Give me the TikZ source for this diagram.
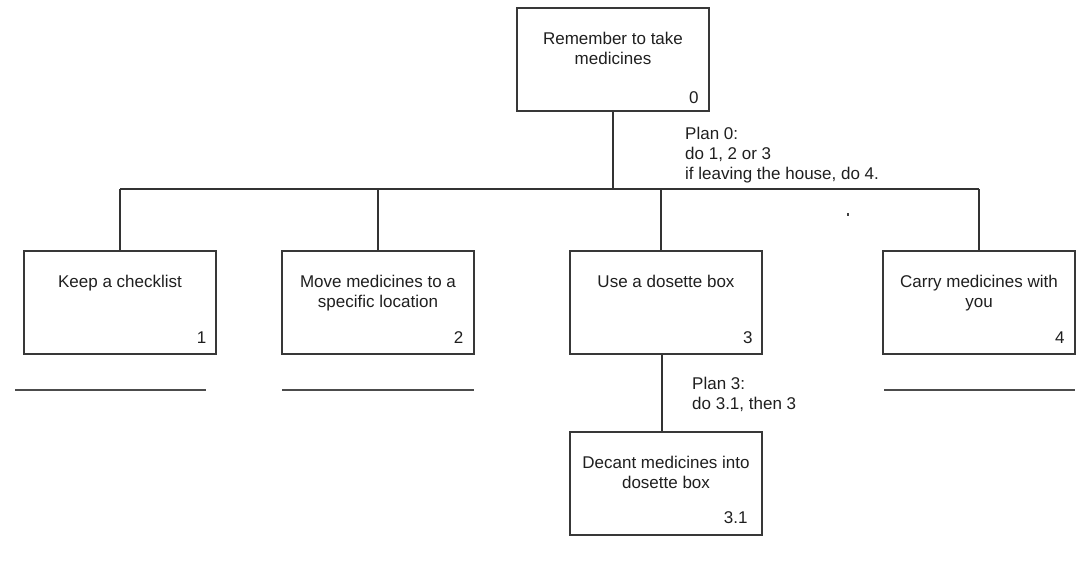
\documentclass[tikz,border=0pt]{standalone}
\usepackage{fontspec}
\setmainfont{Liberation Sans}
\begin{document}
\begin{tikzpicture}[x=1pt,y=-1pt,
  task/.style={draw=black!78, line width=1.3pt, minimum width=192pt, minimum height=103pt, inner sep=0pt},
  caption/.style={anchor=north, align=center, inner sep=0pt, text=black!88, font=\fontsize{17}{20}\selectfont},
  num/.style={anchor=base east, inner sep=0pt, text=black!88, font=\fontsize{17}{20}\selectfont},
  plan/.style={anchor=north west, align=left, inner sep=0pt, text=black!88, font=\fontsize{17}{20}\selectfont},
  link/.style={draw=black!80, line width=1.3pt},
  rule/.style={draw=black!70, line width=1.5pt}]
\useasboundingbox (0,0) rectangle (1080,568);

% task boxes
\node[task] (t0) at (613,59.5) {};
\node[task] (t1) at (120,302.5) {};
\node[task] (t2) at (378,302.5) {};
\node[task] (t3) at (666,302.5) {};
\node[task] (t4) at (979,302.5) {};
\node[task] (t31) at (666,483.5) {};

% task descriptions
\node[caption] (c0) at ([yshift=-25]t0.north) {Remember to take\\medicines};
\node[caption] (c1) at ([yshift=-25]t1.north) {Keep a checklist};
\node[caption] (c2) at ([yshift=-25]t2.north) {Move medicines to a\\specific location};
\node[caption] (c3) at ([yshift=-25]t3.north) {Use a dosette box};
\node[caption] (c4) at ([yshift=-25]t4.north) {Carry medicines with\\you};
\node[caption] (c31) at ([yshift=-25]t31.north) {Decant medicines into\\dosette box};

% task numbers
\node[num] (n0) at ([shift={(-11,-8)}]t0.south east) {0};
\node[num] (n1) at ([shift={(-10,-11)}]t1.south east) {1};
\node[num] (n2) at ([shift={(-11,-11)}]t2.south east) {2};
\node[num] (n3) at ([shift={(-10,-11)}]t3.south east) {3};
\node[num] (n4) at ([shift={(-11,-11)}]t4.south east) {4};
\node[num] (n31) at ([shift={(-15,-12)}]t31.south east) {3.1};

% plans
\node[plan] (p0) at (685,127) {Plan 0:\\do 1, 2 or 3\\if leaving the house, do 4.};
\node[plan] (p3) at (692,377) {Plan 3:\\do 3.1, then 3};

% hierarchy connectors
\coordinate (bus) at (613,189);
\coordinate (t3top) at ([xshift=-5]t3.north);
\coordinate (t3bot) at ([xshift=-4]t3.south);
\draw[link] (t0.south) -- (t0.south |- bus);
\draw[link] (t1.north |- bus) -- (t4.north |- bus);
\draw[link] (t1.north) -- (t1.north |- bus);
\draw[link] (t2.north) -- (t2.north |- bus);
\draw[link] (t3top) -- (t3top |- bus);
\draw[link] (t4.north) -- (t4.north |- bus);
\draw[link] (t3bot) -- (t3bot |- t31.north);

% stop rules under the leaf tasks
\draw[rule] (15,390) -- (206,390);
\draw[rule] (282,390) -- (474,390);
\draw[rule] (884,390) -- (1075,390);

% stray mark
\fill[black!75] (846.5,212.5) rectangle (848.5,215.5);
\end{tikzpicture}
\end{document}
